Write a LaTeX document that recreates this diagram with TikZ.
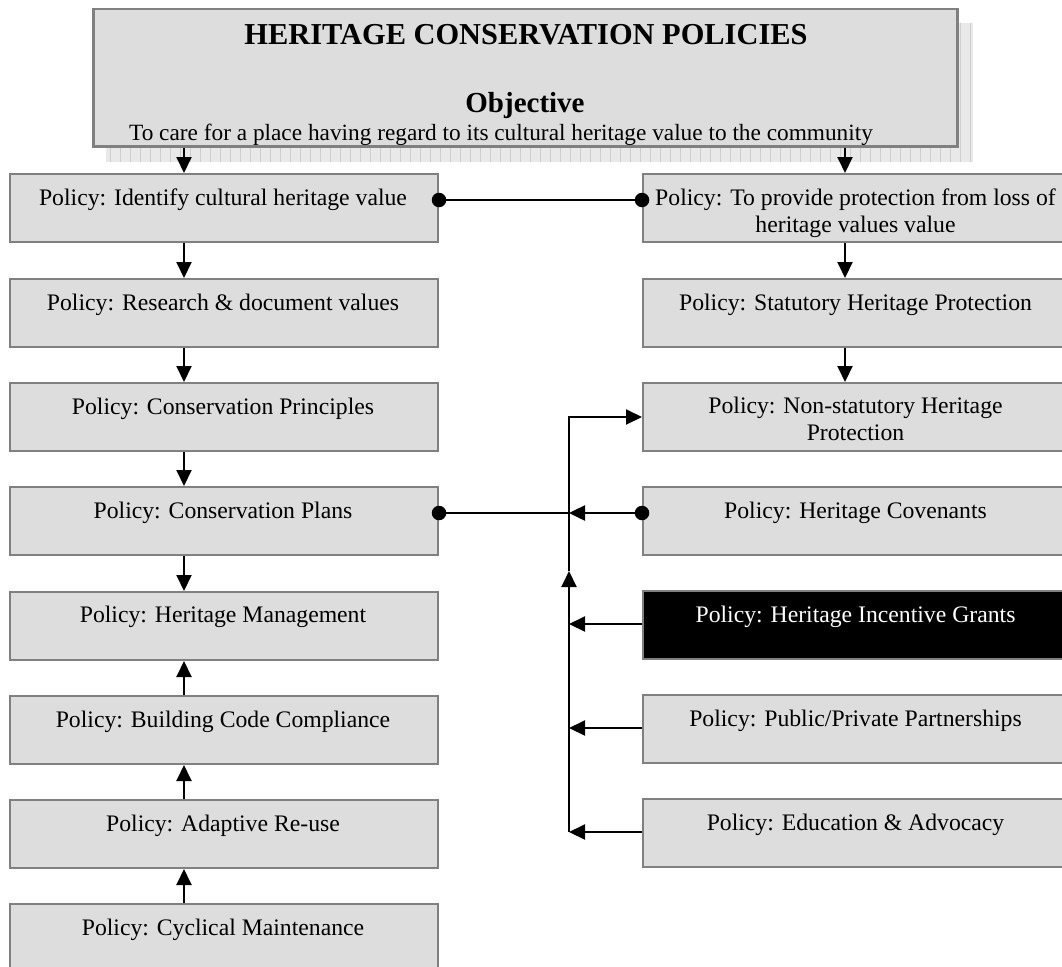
\documentclass[tikz,border=0pt]{standalone}
\usepackage{fontspec}
\setmainfont{Liberation Serif}
\usetikzlibrary{arrows.meta}
\definecolor{boxfill}{HTML}{DDDDDD}
\definecolor{boxline}{HTML}{808080}
\definecolor{shadefill}{HTML}{E9E9E9}
\definecolor{gridline}{HTML}{CDCDCD}
\tikzset{
  pbox/.style={draw=boxline, line width=2pt, fill=boxfill, rectangle, inner sep=0pt,
    minimum width=428pt, minimum height=68pt, anchor=north west},
  darkbox/.style={pbox, fill=black},
  ptxt/.style={anchor=base, inner sep=0pt, font=\fontsize{23.7}{26}\selectfont},
  conn/.style={line width=2pt, draw=black},
  arr/.style={conn, -{Triangle[length=16pt,width=15pt]}},
  dot/.style={circle, fill=black, inner sep=0pt, minimum size=14.5pt},
}
\begin{document}
\begin{tikzpicture}[x=1pt,y=-1pt]
\useasboundingbox (0,0) rectangle (1062,966);
\fill[white] (0,0) rectangle (1062,966);
% header shadow
\fill[shadefill] (106,23) rectangle (973,162);
\draw[gridline, line width=0.9pt, step=10] (106,23) grid (973,162);
% header
\node[draw=boxline, line width=2.5pt, fill=boxfill, rectangle, inner sep=0pt,
  minimum width=864pt, minimum height=137pt, anchor=north west] (H) at (92,8) {};
\node[anchor=base, inner sep=0pt, font=\fontsize{30.4}{32}\selectfont\bfseries] (Ht) at (526,45) {HERITAGE CONSERVATION POLICIES};
\node[anchor=base, inner sep=0pt, font=\fontsize{29}{32}\selectfont\bfseries] (Ho) at (525,112) {Objective};
\begin{scope}
\clip (H.north west) rectangle (H.south east);
\node[anchor=base, inner sep=0pt, font=\fontsize{23.3}{26}\selectfont] (Hs) at (501,140) {To care for a place having regard to its cultural heritage value to the community};
\end{scope}
% left column
\node[pbox] (L1) at (9,173) {};
\node[pbox] (L2) at (9,278) {};
\node[pbox] (L3) at (9,382) {};
\node[pbox] (L4) at (9,486) {};
\node[pbox] (L5) at (9,591) {};
\node[pbox] (L6) at (9,695) {};
\node[pbox] (L7) at (9,799) {};
\node[pbox] (L8) at (9,903) {};
\node[ptxt] (L1t) at (223,205) {Policy: Identify cultural heritage value};
\node[ptxt] (L2t) at (223,310) {Policy: Research \& document values};
\node[ptxt] (L3t) at (223,414) {Policy: Conservation Principles};
\node[ptxt] (L4t) at (223,518) {Policy: Conservation Plans};
\node[ptxt] (L5t) at (223,622) {Policy: Heritage Management};
\node[ptxt] (L6t) at (223,727) {Policy: Building Code Compliance};
\node[ptxt] (L7t) at (223,831) {Policy: Adaptive Re-use};
\node[ptxt] (L8t) at (223,935) {Policy: Cyclical Maintenance};
% right column
\node[pbox, minimum width=427pt] (R1) at (642,173) {};
\node[pbox, minimum width=427pt] (R2) at (642,278) {};
\node[pbox, minimum width=427pt] (R3) at (642,382) {};
\node[pbox, minimum width=427pt] (R4) at (642,486) {};
\node[darkbox, minimum width=427pt] (R5) at (642,590) {};
\node[pbox, minimum width=427pt] (R6) at (642,694) {};
\node[pbox, minimum width=427pt] (R7) at (642,798) {};
\node[ptxt] (R1a) at (855.5,205) {Policy: To provide protection from loss of};
\node[ptxt] (R1b) at (855.5,232) {heritage values value};
\node[ptxt] (R2t) at (855.5,310) {Policy: Statutory Heritage Protection};
\node[ptxt] (R3a) at (855.5,413) {Policy: Non-statutory Heritage};
\node[ptxt] (R3b) at (855.5,440) {Protection};
\node[ptxt] (R4t) at (855.5,518) {Policy: Heritage Covenants};
\node[ptxt, text=white] (R5t) at (855.5,622) {Policy: Heritage Incentive Grants};
\node[ptxt] (R6t) at (855.5,726) {Policy: Public/Private Partnerships};
\node[ptxt] (R7t) at (855.5,830) {Policy: Education \& Advocacy};
% reference coordinates
\coordinate (ax) at (184,0);
\coordinate (bx) at (845,0);
\coordinate (bus) at (569,0);
\coordinate (y1) at (0,200);
\coordinate (y3) at (0,417);
\coordinate (y4) at (0,513);
\coordinate (y5) at (0,624);
\coordinate (y6) at (0,728);
\coordinate (y7) at (0,832);
\coordinate (yup) at (0,571);
% left vertical arrows
\draw[arr] (H.south -| ax) -- (L1.north -| ax);
\draw[arr] (L1.south -| ax) -- (L2.north -| ax);
\draw[arr] (L2.south -| ax) -- (L3.north -| ax);
\draw[arr] (L3.south -| ax) -- (L4.north -| ax);
\draw[arr] (L4.south -| ax) -- (L5.north -| ax);
\draw[arr] (L6.north -| ax) -- (L5.south -| ax);
\draw[arr] (L7.north -| ax) -- (L6.south -| ax);
\draw[arr] (L8.north -| ax) -- (L7.south -| ax);
% right vertical arrows
\draw[arr] (H.south -| bx) -- (R1.north -| bx);
\draw[arr] (R1.south -| bx) -- (R2.north -| bx);
\draw[arr] (R2.south -| bx) -- (R3.north -| bx);
% L1 - R1 link
\draw[conn] (L1.east |- y1) -- (R1.west |- y1);
\node[dot] (d1) at (L1.east |- y1) {};
\node[dot] (d2) at (R1.west |- y1) {};
% L4 to bus
\draw[conn, line width=1.6pt] (L4.east |- y4) -- (bus |- y4);
\node[dot] (d3) at (L4.east |- y4) {};
% covenants to bus
\draw[arr, line width=2.5pt] (R4.west |- y4) -- (bus |- y4);
\node[dot] (d4) at (R4.west |- y4) {};
% other right boxes to bus
\draw[arr] (R5.west |- y5) -- (bus |- y5);
\draw[arr] (R6.west |- y6) -- (bus |- y6);
\draw[arr] (R7.west |- y7) -- (bus |- y7);
% bus
\draw[arr] (bus |- y7) -- (bus |- yup);
\draw[arr] (bus |- yup) -- (bus |- y3) -- (R3.west |- y3);
\end{tikzpicture}
\end{document}
